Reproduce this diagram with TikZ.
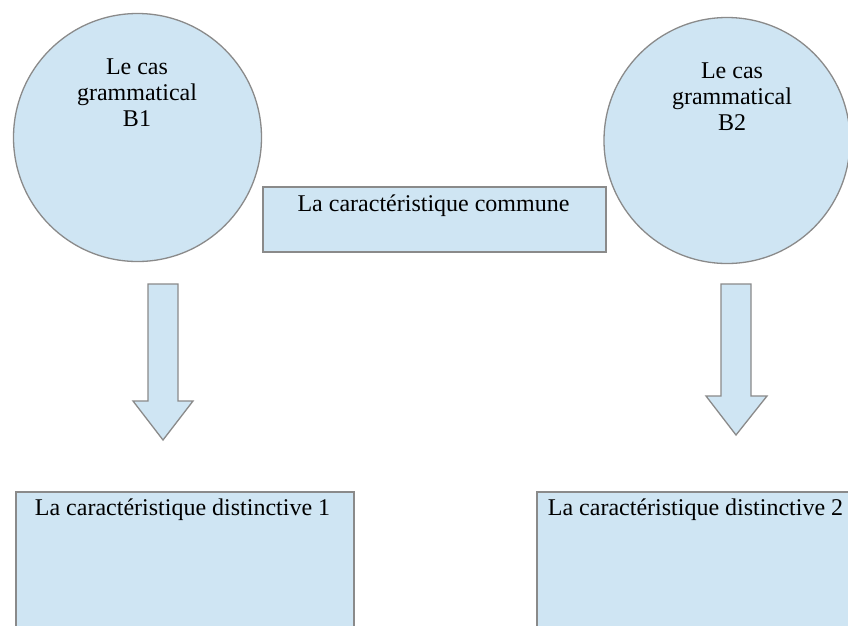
\documentclass[tikz,border=0pt]{standalone}
\usepackage{fontspec}
\setmainfont{Liberation Serif}
\definecolor{boxfill}{HTML}{CFE5F3}
\definecolor{boxline}{HTML}{8A8A8A}
\begin{document}
\begin{tikzpicture}[x=1pt,y=-1pt,
  shapebox/.style={draw=boxline,fill=boxfill,line width=1.3pt},
  txt/.style={inner sep=0pt,font=\fontsize{24}{26}\selectfont}]
\useasboundingbox (0,0) rectangle (848,625);
\path[fill=white] (0,0) rectangle (848,625);
% circles
\node[shapebox,circle,minimum size=248pt,inner sep=0pt] (c1) at (137.5,137.5) {};
\node[shapebox,circle,minimum size=246pt,inner sep=0pt] (c2) at (727,140.5) {};
% middle rectangle
\node[shapebox,rectangle,minimum width=343pt,minimum height=65pt,inner sep=0pt] (mid) at (434.5,219.5) {};
% bottom rectangles
\draw[shapebox] (16,492) rectangle (354,650);
\node[inner sep=0pt] (b1) at (185,571) {};
\draw[shapebox] (537,492) rectangle (880,650);
\node[inner sep=0pt] (b2) at (708,571) {};
% block arrows
\draw[shapebox,line join=miter] (148,284) -- (178,284) -- (178,401) -- (193,401) -- (163,440) -- (133,401) -- (148,401) -- cycle;
\draw[shapebox,line join=miter] (721,284) -- (751,284) -- (751,396) -- (767,396) -- (736,435) -- (706,396) -- (721,396) -- cycle;
% texts
\node[txt,anchor=base] (t1a) at (137,74) {Le cas};
\node[txt,anchor=base] (t1b) at (137,100) {grammatical};
\node[txt,anchor=base] (t1c) at (137,126) {B1};
\node[txt,anchor=base] (t2a) at (732,78) {Le cas};
\node[txt,anchor=base] (t2b) at (732,104) {grammatical};
\node[txt,anchor=base] (t2c) at (732,130) {B2};
\node[txt,anchor=base] (tm) at (433.5,211) {La caractéristique commune};
\node[txt,anchor=base] (tb1) at (182.5,515) {La caractéristique distinctive 1};
\node[txt,anchor=base] (tb2) at (695.5,515) {La caractéristique distinctive 2};
\end{tikzpicture}
\end{document}
